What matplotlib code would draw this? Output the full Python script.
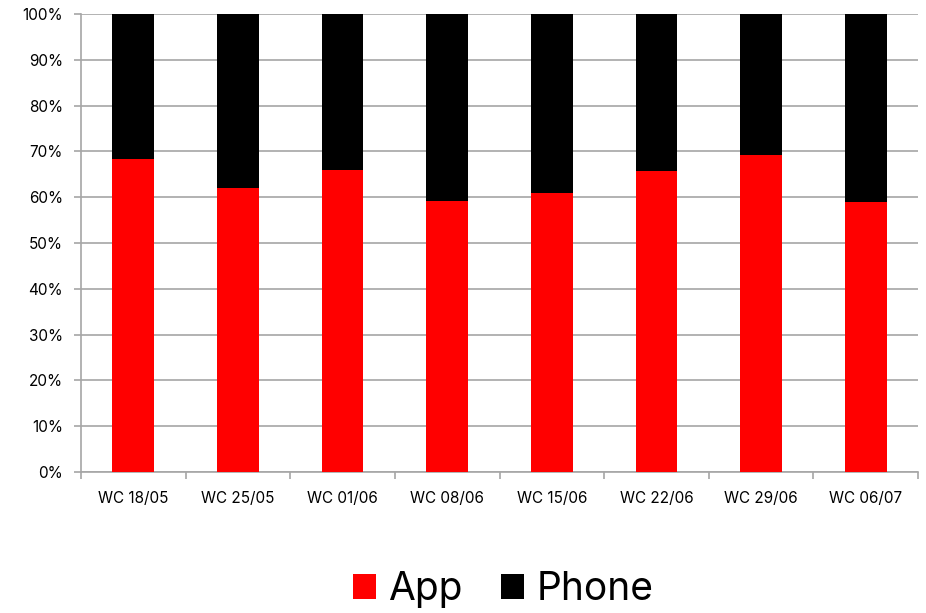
import matplotlib
matplotlib.use("Agg")
import matplotlib.pyplot as plt
from matplotlib.ticker import FixedLocator, PercentFormatter
import numpy as np

categories = ["WC 18/05", "WC 25/05", "WC 01/06", "WC 08/06", "WC 15/06", "WC 22/06", "WC 29/06", "WC 06/07"]
app = [68.3, 61.9, 65.85, 59.1, 61.0, 65.8, 69.2, 58.9]
phone = [100 - v for v in app]

plt.rcParams['font.family'] = ['Inter', 'DejaVu Sans']

fig = plt.figure(figsize=(9.26, 6.13), dpi=100)
ax = fig.add_axes([81/926, 1-472/613, (918-81)/926, (472-14)/613])

x = np.arange(len(categories))
ax.bar(x, app, width=0.4, color='#ff0000', label='App', zorder=3)
ax.bar(x, phone, width=0.4, bottom=app, color='#000000', label='Phone', zorder=3)

ax.set_xlim(-0.5, len(categories) - 0.5)
ax.set_ylim(0, 100)
ax.set_yticks(np.arange(0, 101, 10))
ax.yaxis.set_major_formatter(PercentFormatter(decimals=0))
ax.yaxis.grid(True, color='#a6a6a6', linewidth=1.2, zorder=0)

ax.set_xticks(x)
ax.set_xticklabels(categories)
ax.xaxis.set_minor_locator(FixedLocator(np.arange(-0.5, len(categories), 1)))
ax.tick_params(axis='x', which='major', length=0, pad=14, labelsize=11, colors='#000000')
ax.tick_params(axis='x', which='minor', length=5, width=1.2, color='#a6a6a6', direction='out')
ax.tick_params(axis='y', which='major', length=5, width=1.2, color='#a6a6a6', pad=8, labelsize=11, labelcolor='#000000')

for s in ['top', 'right']:
    ax.spines[s].set_visible(False)
for s in ['left', 'bottom']:
    ax.spines[s].set_color('#a6a6a6')
    ax.spines[s].set_linewidth(1.2)

leg = fig.legend(loc='center', bbox_to_anchor=(503/926, 1-590/613), ncol=2, frameon=False,
                 fontsize=28, handlelength=0.6, handleheight=0.6, handletextpad=0.3, columnspacing=1.0)

fig.savefig("out.png", dpi=100)
